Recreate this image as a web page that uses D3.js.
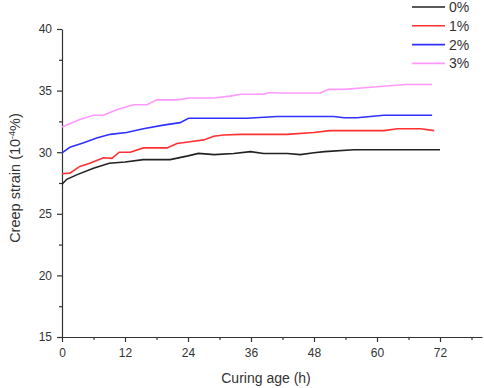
<!DOCTYPE html>
<html>
<head>
<meta charset="utf-8">
<script src="https://cdn.jsdelivr.net/npm/d3@7"></script>
<style>
body { margin: 0; background: #fff; }
text { font-family: "Liberation Sans", Arial, sans-serif; fill: #333; }
</style>
</head>
<body>
<script>
var w = 484;
var h = 388;

// series labels and colours
var names = ["0%", "1%", "2%", "3%"];
var colors = ["#222222", "#ff3030", "#3030ff", "#ff99ff"];

// curing age (h) and creep strain (10^-4 %)
var age0 = [0, 0.9, 3, 6, 9, 12, 15.5, 20.6, 24, 26, 29, 32.7, 35.9, 38.4, 42.9, 45.4, 48, 50, 55.6, 72];
var s0 = [27.4, 27.8, 28.2, 28.7, 29.1, 29.2, 29.4, 29.4, 29.7, 29.9, 29.8, 29.9, 30.05, 29.9, 29.9, 29.8, 29.95, 30.05, 30.2, 30.2];

var age1 = [0, 1.5, 3.4, 5.3, 7.9, 9.5, 10.9, 13, 15.5, 20, 21.9, 24.4, 27, 28.9, 30.8, 34, 42.9, 48, 51, 61.3, 63.9, 68.3, 70.9];
var s1 = [28.25, 28.3, 28.85, 29.1, 29.55, 29.5, 30.0, 30.0, 30.35, 30.35, 30.7, 30.85, 31.0, 31.3, 31.4, 31.45, 31.45, 31.6, 31.75, 31.75, 31.9, 31.9, 31.75];

var age2 = [0, 1.5, 4, 6.6, 9.2, 12.3, 15.5, 19.3, 22.5, 24.1, 35.2, 41, 51.8, 53.7, 56.2, 61.3, 70.5];
var s2 = [29.95, 30.4, 30.75, 31.15, 31.45, 31.6, 31.9, 32.2, 32.4, 32.75, 32.75, 32.9, 32.9, 32.8, 32.8, 33.0, 33.0];

var age3 = [0, 3.4, 6, 7.9, 10.4, 13.6, 16.2, 18, 21.9, 24.4, 28.9, 32, 34, 38.4, 39.6, 41, 49.2, 50.8, 53.7, 58.2, 61.3, 65.4, 70.5];
var s3 = [32.05, 32.65, 33.0, 33.0, 33.45, 33.85, 33.85, 34.25, 34.25, 34.4, 34.4, 34.55, 34.7, 34.7, 34.85, 34.8, 34.8, 35.1, 35.1, 35.25, 35.35, 35.5, 35.5];

var xTicks = [0, 12, 24, 36, 48, 60, 72];
var yTicks = [15, 20, 25, 30, 35, 40];

var ages = [age0, age1, age2, age3];
var strains = [s0, s1, s2, s3];

var margin = {left: 62, right: 2, top: 29, bottom: 51};

var svg = d3.select("body")
            .append("svg")
              .attr("width", w)
              .attr("height", h);

var x = d3.scaleLinear()
  .domain([0, 80])
  .range([margin.left, w - margin.right]);

var y = d3.scaleLinear()
  .domain([15, 40])
  .range([h - margin.bottom, margin.top]);

//minor ticks first, so the major ones sit on top
svg.append("g")
  .attr("transform", "translate(0," + y(15) + ")")
  .call(d3.axisBottom(x).tickValues(d3.range(6, 80, 12)).tickSize(3).tickFormat(""))
  .call(function(g) { g.select(".domain").remove(); });

svg.append("g")
  .attr("transform", "translate(" + x(0) + ",0)")
  .call(d3.axisLeft(y).tickValues(d3.range(17.5, 40, 5)).tickSize(3).tickFormat(""))
  .call(function(g) { g.select(".domain").remove(); });

var xAxis = svg.append("g")
  .attr("transform", "translate(0," + y(15) + ")")
  .call(d3.axisBottom(x).tickValues(xTicks).tickSize(5).tickSizeOuter(0).tickPadding(6));

var yAxis = svg.append("g")
  .attr("transform", "translate(" + x(0) + ",0)")
  .call(d3.axisLeft(y).tickValues(yTicks).tickSize(5).tickSizeOuter(0).tickPadding(5));

svg.selectAll(".domain, .tick line")
  .attr("stroke", "#333")
  .attr("stroke-width", 1.2);

svg.selectAll(".tick text")
  .style("font-size", "12px")
  .style("font-family", "Liberation Sans, Arial, sans-serif")
  .attr("fill", "#333");

//curves
var line = d3.line()
  .x(function(d) { return x(d[0]); })
  .y(function(d) { return y(d[1]); });

for (var i = 0; i < names.length; i++) {
  var pts = d3.zip(ages[i], strains[i]);
  svg.append("path")
    .datum(pts)
    .attr("d", line)
    .attr("fill", "none")
    .attr("stroke", colors[i])
    .attr("stroke-width", 1.6);
}

//legend
var legend = svg.append("g");
names.forEach(function(n, i) {
  var ly = 7 + i * 18.8;
  legend.append("line")
    .attr("x1", 412).attr("x2", 445)
    .attr("y1", ly).attr("y2", ly)
    .attr("stroke", colors[i])
    .attr("stroke-width", 1.6);
  legend.append("text")
    .attr("x", 449).attr("y", ly + 5)
    .style("font-size", "14px")
    .text(n);
});

//axis titles
svg.append("text")
  .attr("x", (x(0) + x(80)) / 2 - 6)
  .attr("y", 383)
  .attr("text-anchor", "middle")
  .style("font-size", "14px")
  .text("Curing age (h)");

var yt = svg.append("text")
  .attr("transform", "translate(20," + 178 + ") rotate(-90)")
  .attr("text-anchor", "middle")
  .style("font-size", "14.5px");
yt.append("tspan").text("Creep strain (10");
yt.append("tspan").attr("dy", -5).style("font-size", "9px").text("-4");
yt.append("tspan").attr("dy", 5).text("%)");
</script>
</body>
</html>
